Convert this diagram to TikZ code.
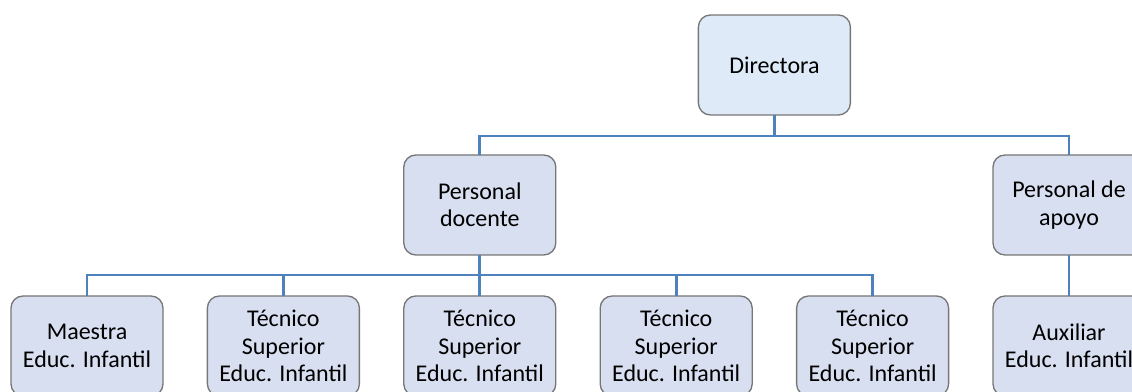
\documentclass[tikz,border=0pt]{standalone}
\usepackage{fontspec}
\setmainfont{Carlito}
\usetikzlibrary{positioning,calc}

\definecolor{linkblue}{RGB}{79,129,189}
\definecolor{topfill}{RGB}{222,234,247}
\definecolor{boxfill}{RGB}{216,223,240}
\definecolor{boxline}{RGB}{118,118,118}

\tikzset{
  unit/.style={draw=boxline, line width=1pt, rounded corners=9pt, fill=boxfill,
    minimum width=114pt, minimum height=75pt, inner sep=0pt, outer sep=0pt,
    align=center, font=\fontsize{18}{20.5}\selectfont},
  link/.style={draw=linkblue, line width=2.2pt}
}

\begin{document}
\begin{tikzpicture}
    \useasboundingbox (0,0) rectangle (849pt,294pt);
    \clip (0,0) rectangle (849pt,294pt);

    % bottom row
    \node[unit] (maestra) at (65.25pt,34.5pt) {Maestra\\Educ. Infantil};
    \node[unit, right=33.3pt of maestra] (tec1) {Técnico\\Superior\\Educ. Infantil};
    \node[unit, right=33.3pt of tec1] (tec2) {Técnico\\Superior\\Educ. Infantil};
    \node[unit, right=33.3pt of tec2] (tec3) {Técnico\\Superior\\Educ. Infantil};
    \node[unit, right=33.3pt of tec3] (tec4) {Técnico\\Superior\\Educ. Infantil};
    \node[unit, right=33.3pt of tec4] (aux) {Auxiliar\\Educ. Infantil};

    % middle row
    \node[unit, above=30.75pt of tec2] (docente) {Personal\\docente};
    \node[unit, above=30.75pt of aux] (apoyo) {Personal de\\apoyo};

    % top
    \coordinate (mid) at ($(docente.north)!0.5!(apoyo.north)$);
    \node[unit, fill=topfill, above=30pt of mid] (dir) {Directora};

    % connectors
    \draw[link] (dir.south) -- ++(0,-15.75pt) coordinate (bus1);
    \draw[link] (docente.north) |- (bus1) -| (apoyo.north);
    \draw[link] (docente.south) -- ++(0,-15pt) coordinate (bus2);
    \draw[link] (maestra.north) |- (bus2) -| (tec4.north);
    \draw[link] (docente.south) -- (tec2.north);
    \draw[link] (tec1.north) -- (tec1.north |- bus2);
    \draw[link] (tec3.north) -- (tec3.north |- bus2);
    \draw[link] (apoyo.south) -- (aux.north);
\end{tikzpicture}
\end{document}
